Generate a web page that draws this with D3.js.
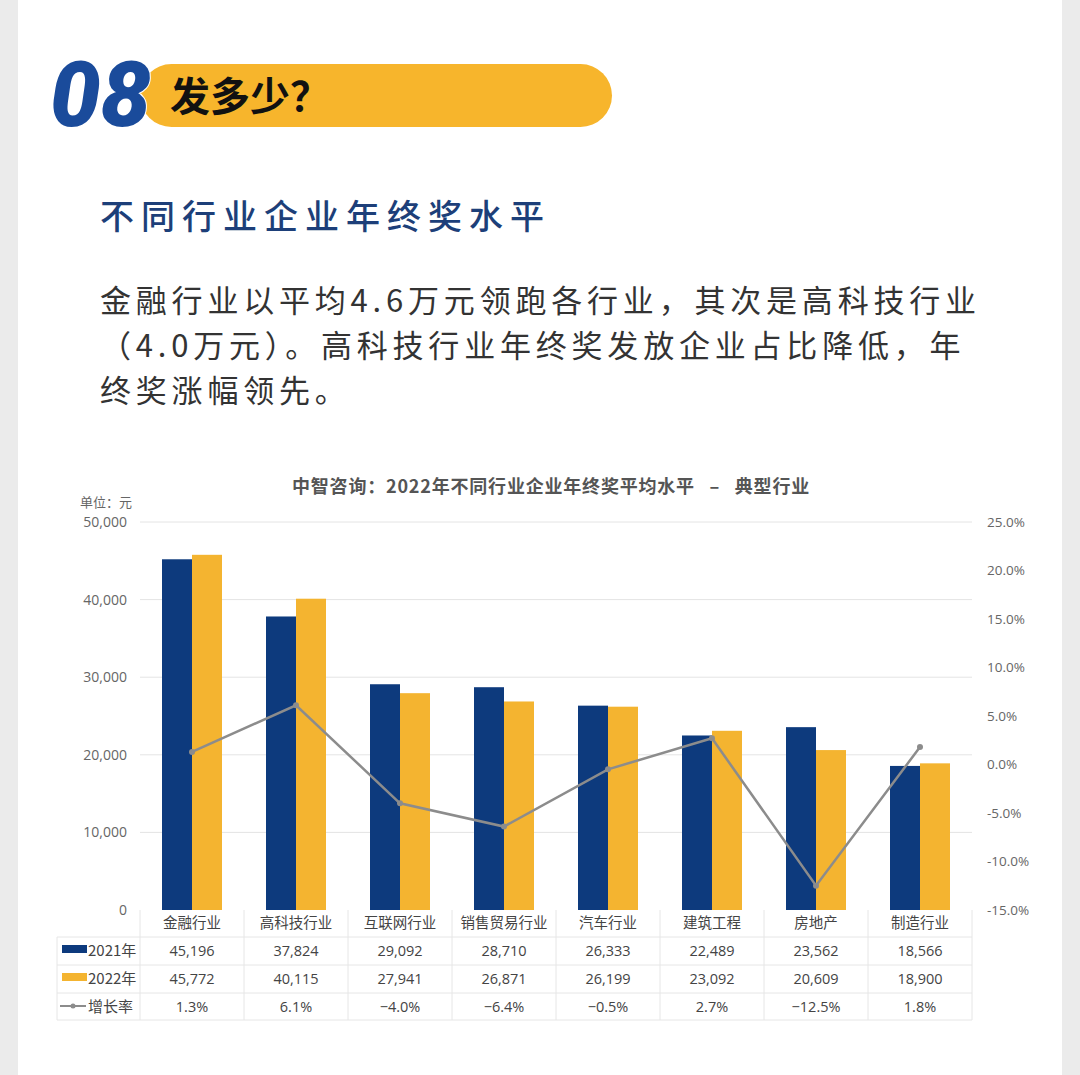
<!DOCTYPE html>
<html><head><meta charset="utf-8">
<script src="https://cdn.jsdelivr.net/npm/d3@7"></script>
<style>
html,body{margin:0;padding:0;background:#ebebeb;}
svg{display:block;}
</style></head>
<body>
<svg id="c" width="1080" height="1075"></svg>
<script>
const categories = ["金融行业","高科技行业","互联网行业","销售贸易行业","汽车行业","建筑工程","房地产","制造行业"];
const values2021 = [45196,37824,29092,28710,26333,22489,23562,18566];
const values2022 = [45772,40115,27941,26871,26199,23092,20609,18900];
const growth = [1.3,6.1,-4.0,-6.4,-0.5,2.7,-12.5,1.8];
const leftTicks = [0,10000,20000,30000,40000,50000];
const rightTicks = [-15,-10,-5,0,5,10,15,20,25];
const seriesNames = ["2021年","2022年","增长率"];
const paragraph = ["金融行业以平均4.6万元领跑各行业，其次是高科技行业","（4.0万元）。高科技行业年终奖发放企业占比降低，年","终奖涨幅领先。"];

const BLUE="#0d3a7d", YELLOW="#f4b430", GREY_LINE="#8c8c8c";
const CJK="'Noto Sans CJK SC','Noto Sans',sans-serif";
const svg=d3.select("#c");

// page card
svg.append("rect").attr("x",18).attr("y",0).attr("width",1044).attr("height",1075).attr("fill","#ffffff");

// header
svg.append("rect").attr("x",140).attr("y",64).attr("width",472).attr("height",63).attr("rx",31.5).attr("fill","#f7b52c");
svg.append("text").attr("x",50).attr("y",126).attr("font-family","Roboto,'DejaVu Sans',sans-serif")
  .attr("font-weight",900).attr("font-style","italic").attr("font-size",90).attr("letter-spacing",0)
  .attr("fill","#1a4b9b").attr("stroke","#ffffff").attr("stroke-width",2).attr("paint-order","stroke").text("08");
svg.append("text").attr("x",170).attr("y",111).attr("font-family",CJK).attr("font-weight",700)
  .attr("font-size",40).attr("fill","#111").text("发多少？");

// subtitle
svg.append("text").attr("x",100).attr("y",229).attr("font-family",CJK).attr("font-weight",500)
  .attr("font-size",34).attr("letter-spacing",7).attr("fill","#1d3f79").text("不同行业企业年终奖水平");

// paragraph
paragraph.forEach((t,i)=>{
  svg.append("text").attr("x",100).attr("y",312+i*45).attr("font-family",CJK).attr("font-size",31)
    .attr("letter-spacing",4.8).attr("fill","#333").text(t);
});

// chart title
svg.append("text").attr("x",551).attr("y",493).attr("text-anchor","middle").attr("font-family",CJK)
  .attr("font-weight",700).attr("font-size",18).attr("letter-spacing",0.8).style("white-space","pre")
  .attr("fill","#555").text("中智咨询：2022年不同行业企业年终奖平均水平   –   典型行业");
svg.append("text").attr("x",80).attr("y",507).attr("font-family",CJK).attr("font-size",13).attr("fill","#666").text("单位：元");

// scales
const x=d3.scaleBand().domain(categories).range([140,972]);
const y=d3.scaleLinear().domain([0,50000]).range([910,522]);
const y2=d3.scaleLinear().domain([-15,25]).range([910,522]);
const bw=30;

// gridlines
svg.append("g").selectAll("line").data(leftTicks.filter(d=>d>0)).join("line")
  .attr("x1",140).attr("x2",972).attr("y1",d=>y(d)).attr("y2",d=>y(d)).attr("stroke","#e4e4e4").attr("stroke-width",1);

// axes
const ax=svg.append("g").attr("transform","translate(130,0)")
  .call(d3.axisLeft(y).tickValues(leftTicks).tickSize(0).tickFormat(d3.format(",")));
ax.select(".domain").remove();
ax.selectAll("text").attr("font-family","'Open Sans',sans-serif").attr("font-size",14).attr("fill","#666");
const ax2=svg.append("g").attr("transform","translate(984,0)")
  .call(d3.axisRight(y2).tickValues(rightTicks).tickSize(0).tickFormat(d=>d.toFixed(1)+"%"));
ax2.select(".domain").remove();
ax2.selectAll("text").attr("font-family","'Open Sans',sans-serif").attr("font-size",13.5).attr("fill","#666");

// bars
svg.append("g").selectAll("rect").data(categories).join("rect")
  .attr("x",d=>x(d)+x.bandwidth()/2-bw).attr("width",bw).attr("y",(d,i)=>y(values2021[i]))
  .attr("height",(d,i)=>y(0)-y(values2021[i])).attr("fill",BLUE);
svg.append("g").selectAll("rect").data(categories).join("rect")
  .attr("x",d=>x(d)+x.bandwidth()/2).attr("width",bw).attr("y",(d,i)=>y(values2022[i]))
  .attr("height",(d,i)=>y(0)-y(values2022[i])).attr("fill",YELLOW);

// growth line
const line=d3.line().x((d,i)=>x(categories[i])+x.bandwidth()/2).y(d=>y2(d));
svg.append("path").datum(growth).attr("d",line).attr("fill","none").attr("stroke",GREY_LINE).attr("stroke-width",2.5);
svg.append("g").selectAll("circle").data(growth).join("circle")
  .attr("cx",(d,i)=>x(categories[i])+x.bandwidth()/2).attr("cy",d=>y2(d)).attr("r",3).attr("fill",GREY_LINE);

// data table
const rowY=[910,937,965,993,1020];
const tg=svg.append("g");
rowY.slice(1).forEach(yy=>{
  tg.append("line").attr("x1",57).attr("x2",972).attr("y1",yy).attr("y2",yy).attr("stroke","#e6e6e6");
});
const vx=[140].concat(categories.map(c=>x(c)+x.bandwidth()));
vx.forEach(xx=>{
  tg.append("line").attr("x1",xx).attr("x2",xx).attr("y1",910).attr("y2",1020).attr("stroke","#e6e6e6");
});
tg.append("line").attr("x1",57).attr("x2",57).attr("y1",937).attr("y2",1020).attr("stroke","#e6e6e6");

tg.selectAll("text.cat").data(categories).join("text").attr("class","cat")
  .attr("x",d=>x(d)+x.bandwidth()/2).attr("y",928).attr("text-anchor","middle")
  .attr("font-family",CJK).attr("font-size",14.5).attr("fill","#444").text(d=>d);
const fmt=d3.format(",");
[[values2021,fmt],[values2022,fmt],[growth,d=>d.toFixed(1)+"%"]].forEach(([arr,f],r)=>{
  tg.selectAll("text.r"+r).data(arr).join("text").attr("class","r"+r)
    .attr("x",(d,i)=>x(categories[i])+x.bandwidth()/2).attr("y",(rowY[r+1]+rowY[r+2])/2+5)
    .attr("text-anchor","middle").attr("font-family","'Open Sans',sans-serif").attr("font-size",14.5)
    .attr("fill","#444").text(d=>f(d).replace("-","−"));
});
tg.append("rect").attr("x",62).attr("y",945).attr("width",25).attr("height",8).attr("fill",BLUE);
tg.append("rect").attr("x",62).attr("y",973).attr("width",25).attr("height",8).attr("fill",YELLOW);
tg.append("line").attr("x1",60).attr("x2",86).attr("y1",1006).attr("y2",1006).attr("stroke",GREY_LINE).attr("stroke-width",2);
tg.append("circle").attr("cx",73).attr("cy",1006).attr("r",2.5).attr("fill",GREY_LINE);
seriesNames.forEach((n,i)=>{
  tg.append("text").attr("x",88).attr("y",(rowY[i+1]+rowY[i+2])/2+5).attr("font-family",CJK)
    .attr("font-size",15).attr("fill","#444").text(n);
});
</script>
</body></html>
